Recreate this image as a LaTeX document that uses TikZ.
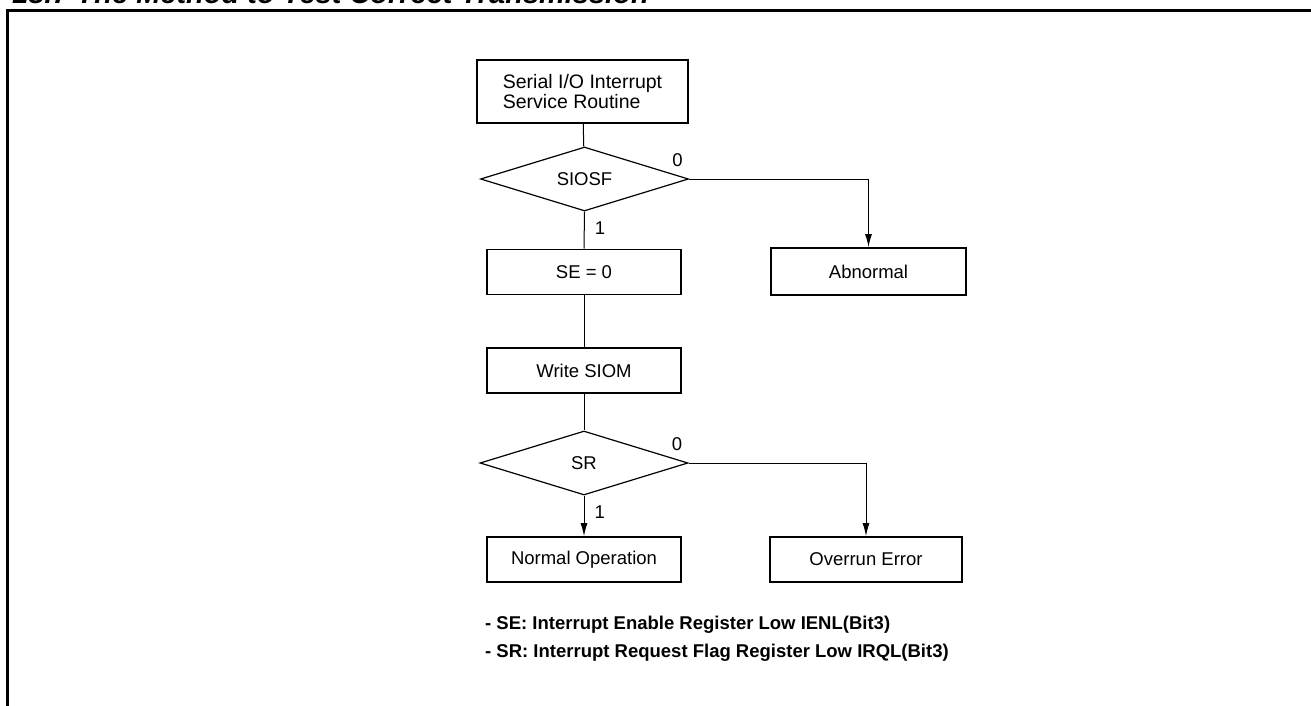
\documentclass[tikz,border=0pt]{standalone}
\usepackage{fontspec}
\setmainfont{Liberation Sans}
\usetikzlibrary{arrows.meta,shapes.geometric}

\begin{document}
\begin{tikzpicture}[x=1pt,y=-1pt,
  txt/.style={font=\fontsize{18.5}{22}\selectfont},
  box/.style={draw,txt,line width=1.8pt,minimum width=194pt,minimum height=45pt,inner sep=0pt},
  decision/.style={draw,txt,diamond,line width=1.2pt,aspect=3.27,minimum width=208pt,minimum height=64pt,inner sep=0pt},
  flow/.style={line width=1pt},
  arr/.style={flow,-{Latex[length=13pt,width=7pt]}},
  lbl/.style={txt,inner sep=0pt},
  note/.style={font=\bfseries\fontsize{18.5}{22}\selectfont,inner sep=0pt,anchor=west}]
  \useasboundingbox (0,0) rectangle (1311,706);
  \clip (0,0) rectangle (1311,706);
  % frame and heading, both run off the page
  \draw[line width=3pt] (7,740) -- (7,11) -- (1340,11);
  \node[anchor=base west,inner sep=0pt,font=\bfseries\itshape\fontsize{29}{34}\selectfont] (head) at (12,4)
    {18.7 The Method to Test Correct Transmission};
  % main column
  \node[box,minimum width=211pt,minimum height=63pt,align=left,
        font=\fontsize{19.5}{20}\selectfont] (isr) at (582.5,91.5) {Serial I/O Interrupt\\Service Routine};
  \node[decision] (siosf) at (584.5,179) {SIOSF};
  \node[box] (se)     at (584,272)   {SE = 0};
  \node[box] (siom)   at (584,370.5) {Write SIOM};
  \node[decision] (sr) at (584,463)  {SR};
  \node[box] (normal) at (584,559.5) {Normal Operation};
  % right column
  \node[box,minimum width=195pt,minimum height=47pt] (abnormal) at (868.5,271.5) {Abnormal};
  \node[box,minimum width=192pt] (overrun) at (866,559.5) {Overrun Error};
  % connectors
  \draw[flow] (isr) -- (siosf);
  \draw[flow] (siosf.south) -- node[lbl,pos=0.45,right=10pt] (siosf1) {1} (se.north);
  \draw[arr] (siosf.east) node[lbl,anchor=south east,xshift=-6pt,yshift=12pt] (siosf0) {0} -| (abnormal.north);
  \draw[flow] (se) -- (siom);
  \draw[flow] (siom) -- (sr);
  \draw[arr] (sr.south) -- node[lbl,pos=0.4,right=10pt] (sr1) {1} (normal.north);
  \draw[arr] (sr.east) node[lbl,anchor=south east,xshift=-6pt,yshift=12pt] (sr0) {0} -| (overrun.north);
  % register notes
  \node[note] (note1) at (485,625) {- SE: Interrupt Enable Register Low IENL(Bit3)};
  \node[note] (note2) at (485,653) {- SR: Interrupt Request Flag Register Low IRQL(Bit3)};
\end{tikzpicture}
\end{document}
